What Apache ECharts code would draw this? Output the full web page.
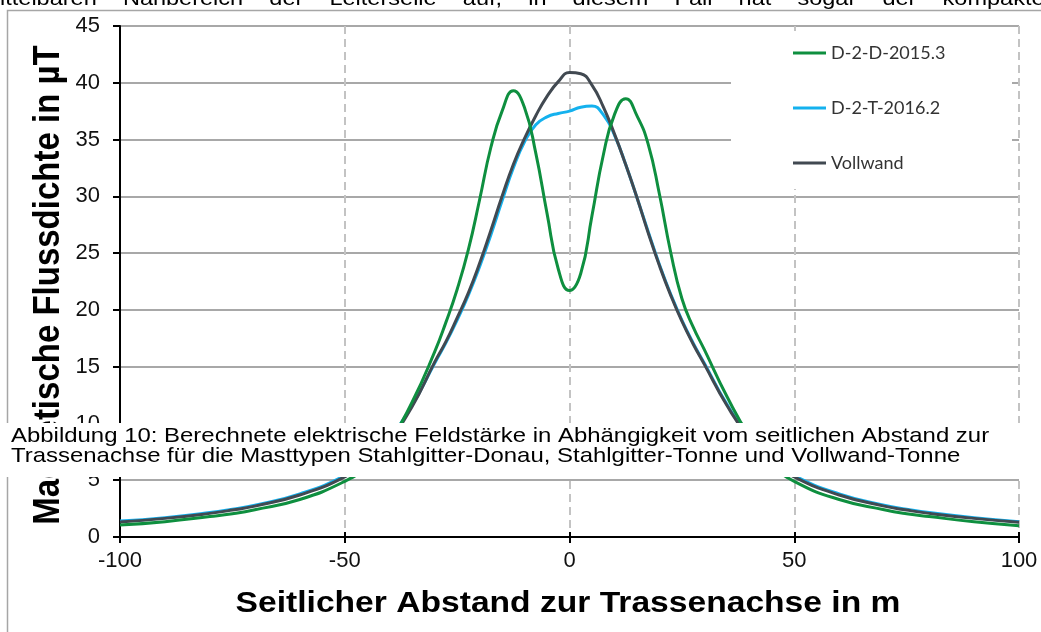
<!DOCTYPE html>
<html>
<head>
<meta charset="utf-8">
<script src="https://cdn.jsdelivr.net/npm/echarts@6/dist/echarts.min.js"></script>
<style>
html,body{margin:0;padding:0;background:#fff;}
#chart{width:1041px;height:632px;}
</style>
</head>
<body>
<div id="chart"></div>
<script>
// ---- data ----
const xs = [-100,-90,-80,-75,-70,-60,-50,-45,-40,-35,-30,-27.5,-25,-22.5,-20,-17.5,-15,-12.5,-10,-7.5,-5,-2.5,0,2.5,5,7.5,10,12.5,15,17.5,20,22.5,25,27.5,30,35,40,45,50,60,70,75,80,90,100];
const seriesD = [1.06,1.35,1.8,2.05,2.4,3.3,4.9,6.2,8.4,11.9,16.3,18.9,21.8,25.3,29.7,34.3,37.5,39.3,37.8,33.8,28.5,23.6,21.7,23.2,28.3,33.6,37.2,38.6,37.1,34.6,30.2,25.1,21.0,18.5,16.5,12.4,8.9,6.4,4.9,3.3,2.4,2.05,1.8,1.35,1.0];
const seriesT = [1.4,1.7,2.15,2.45,2.8,3.8,5.4,6.8,8.7,11.6,15.3,17.1,19.1,21.3,23.8,26.6,29.6,32.5,34.8,36.3,37.0,37.3,37.5,37.85,37.95,37.2,35.4,32.8,29.9,26.9,24.0,21.4,19.1,17.1,15.3,11.7,8.8,6.8,5.4,3.8,2.8,2.45,2.15,1.7,1.35];
const seriesV = [1.33,1.64,2.08,2.37,2.72,3.7,5.3,6.7,8.6,11.5,15.4,17.2,19.3,21.5,24.1,27.0,30.0,32.8,35.1,37.1,38.8,40.1,40.9,40.8,39.8,37.9,35.5,32.8,29.9,26.8,23.9,21.3,19.0,17.0,15.2,11.6,8.7,6.7,5.3,3.7,2.72,2.37,2.08,1.64,1.3];
const seriesNames = ['D-2-D-2015.3','D-2-T-2016.2','Vollwand'];
const xTickValues = [-100,-50,0,50,100];
const yTitle = 'Magnetische Flussdichte in µT';
const xTitle = 'Seitlicher Abstand zur Trassenachse in m';
const captionLine1 = 'Abbildung 10: Berechnete elektrische Feldstärke in Abhängigkeit vom seitlichen Abstand zur';
const captionLine2 = 'Trassenachse für die Masttypen Stahlgitter-Donau, Stahlgitter-Tonne und Vollwand-Tonne';
const topWords = ['ittelbaren','Nahbereich','der','Leiterseile','auf,','in','diesem','Fall','hat','sogar','der','kompakte'];

const colors = {g:'#0E8F3F', b:'#14B1EE', d:'#414951'};
const pair = arr => xs.map((x,i)=>[x, arr[i]]);

const chart = echarts.init(document.getElementById('chart'), null, {renderer:'canvas'});
const axisFont = 'Liberation Sans, Arial, sans-serif';

chart.setOption({
  animation:false,
  backgroundColor:'#fff',
  grid:{left:120, right:22, top:26, bottom:95, containLabel:false},
  legend:{
    data:seriesNames,
    orient:'vertical',
    left:793, top:43, padding:0,
    itemWidth:33, itemHeight:3, itemGap:35,
    icon:'rect',
    z:10,
    textStyle:{fontFamily:'Lato, sans-serif', fontSize:18, color:'#333', lineHeight:20}
  },
  xAxis:[{
    type:'value', min:-100, max:100, interval:25,
    axisLine:{show:true, onZero:false, lineStyle:{color:'#000', width:2}},
    axisTick:{show:true, length:6, customValues:xTickValues, lineStyle:{color:'#000', width:2}},
    axisLabel:{customValues:xTickValues, margin:13, fontSize:22, color:'#111', fontFamily:axisFont,
      formatter:v => (v % 50 === 0 ? String(v) : '')},
    splitLine:{show:true, lineStyle:{color:'#C3C3C3', width:2, type:[8,5]}}
  },{
    type:'value', min:-100, max:100, interval:25, position:'bottom', gridIndex:0,
    axisLine:{show:false, onZero:false},
    axisTick:{show:true, inside:true, length:5, customValues:xTickValues, lineStyle:{color:'#000', width:2}},
    axisLabel:{show:false},
    splitLine:{show:false}
  }],
  yAxis:{
    type:'value', min:0, max:45, interval:5,
    axisLine:{show:true, onZero:false, lineStyle:{color:'#000', width:2}},
    axisTick:{show:true, length:7, lineStyle:{color:'#000', width:2}},
    axisLabel:{margin:20, fontSize:22, color:'#111', fontFamily:axisFont},
    splitLine:{show:true, lineStyle:{color:'#A8A8A8', width:2}}
  },
  series:[
    {name:seriesNames[0], type:'line', xAxisIndex:0, data:pair(seriesD), showSymbol:false, symbol:'none', smooth:0.5, z:4,
      lineStyle:{color:colors.g, width:3}, itemStyle:{color:colors.g}},
    {name:seriesNames[1], type:'line', xAxisIndex:0, data:pair(seriesT), showSymbol:false, symbol:'none', smooth:0.5, z:2,
      lineStyle:{color:colors.b, width:3}, itemStyle:{color:colors.b}},
    {name:seriesNames[2], type:'line', xAxisIndex:0, data:pair(seriesV), showSymbol:false, symbol:'none', smooth:0.5, z:3,
      lineStyle:{color:colors.d, width:3}, itemStyle:{color:colors.d}}
  ],
  graphic:[
    {type:'rect', silent:true, z:-1, shape:{x:7.5, y:10.5, width:1100, height:700}, style:{fill:'none', stroke:'#A6A6A6', lineWidth:1.5}},
    {type:'rect', silent:true, z:5, shape:{x:731, y:31, width:281, height:158}, style:{fill:'#fff'}},
    {type:'text', silent:true, z:6, x:49, y:285, rotation:Math.PI/2, scaleY:1.12,
      style:{text:yTitle, font:'bold 33px Liberation Sans, Arial, sans-serif', fill:'#000', textAlign:'center', textVerticalAlign:'middle'}},
    {type:'text', silent:true, z:6, x:568, y:604, scaleX:1.12,
      style:{text:xTitle, font:'bold 30px Liberation Sans, Arial, sans-serif', fill:'#000', textAlign:'center', textVerticalAlign:'middle'}},
    {type:'rect', silent:true, z:50, shape:{x:0, y:423, width:1041, height:54}, style:{fill:'#fff'}},
    {type:'text', silent:true, z:51, x:11, y:436.5, scaleX:1.14,
      style:{text:captionLine1, font:'21px Liberation Sans, Arial, sans-serif', fill:'#000', textAlign:'left', textVerticalAlign:'middle'}},
    {type:'text', silent:true, z:51, x:11, y:456.5, scaleX:1.14,
      style:{text:captionLine2, font:'21px Liberation Sans, Arial, sans-serif', fill:'#000', textAlign:'left', textVerticalAlign:'middle'}},
    {type:'text', silent:true, z:51, x:0, y:-1, scaleX:1.12,
      style:{text:topWords.join('    '), font:'21px Liberation Sans, Arial, sans-serif', fill:'#000', textAlign:'left', textVerticalAlign:'middle'}}
  ]
});
</script>
</body>
</html>
